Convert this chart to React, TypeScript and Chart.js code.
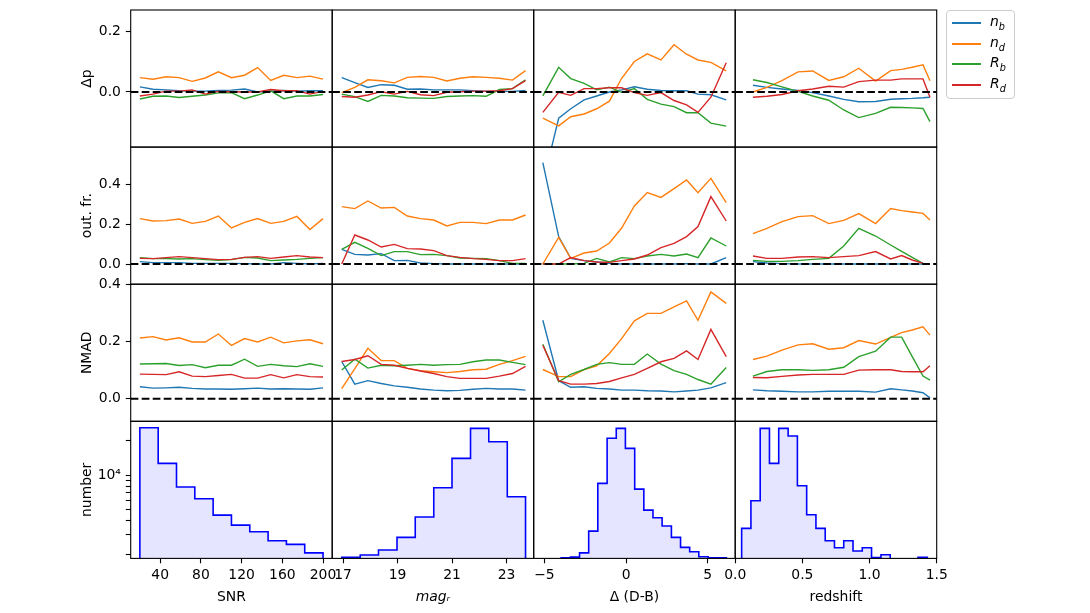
import { useEffect, useRef } from 'react';
import { Chart, registerables } from 'chart.js';

Chart.register(...registerables);
Chart.defaults.font.family = "'DejaVu Sans', sans-serif";
Chart.defaults.font.size = 13.9;
Chart.defaults.color = '#000';

// x positions of the binned points, one list per column
const SNR_X = [20, 32.9, 45.7, 58.6, 71.4, 84.3, 97.1, 110, 122.9, 135.7, 148.6, 161.4, 174.3, 187.1, 200];
const MAG_X = [16.95, 17.43, 17.91, 18.4, 18.88, 19.36, 19.84, 20.33, 20.81, 21.29, 21.77, 22.25, 22.74, 23.22, 23.7];
const DELTA_X = [-5.1, -4.13, -3.39, -2.57, -1.8, -1.02, -0.27, 0.51, 1.3, 2.14, 2.94, 3.71, 4.41, 5.2, 6.14];
const Z_X = [0.132, 0.236, 0.348, 0.468, 0.577, 0.697, 0.808, 0.92, 1.045, 1.157, 1.239, 1.318, 1.398, 1.45];

// series order: n_b, n_d, R_b, R_d
const DP_SNR = [
  [0.017, 0.009, 0.007, 0.004, 0.003, 0.003, 0.005, 0.006, 0.01, 0.0, 0.003, 0.005, 0.003, 0.004, 0.004],
  [0.047, 0.042, 0.05, 0.047, 0.035, 0.046, 0.066, 0.047, 0.055, 0.08, 0.038, 0.055, 0.047, 0.052, 0.042],
  [-0.023, -0.014, -0.013, -0.018, -0.014, -0.01, -0.003, -0.002, -0.022, -0.01, 0.004, -0.022, -0.013, -0.013, -0.008],
  [-0.013, -0.007, 0.003, 0.003, 0.007, -0.007, 0.002, 0.001, 0.0, 0.0, 0.008, 0.004, 0.004, -0.007, 0.002],
];
const DP_MAG = [
  [0.047, 0.031, 0.015, 0.024, 0.022, 0.009, 0.01, 0.007, 0.007, 0.007, 0.004, 0.002, 0.002, 0.002, 0.005],
  [-0.002, 0.015, 0.04, 0.037, 0.03, 0.048, 0.051, 0.048, 0.036, 0.045, 0.05, 0.048, 0.045, 0.039, 0.07],
  [-0.007, -0.015, -0.031, -0.011, -0.013, -0.019, -0.02, -0.021, -0.015, -0.013, -0.012, -0.014, 0.008, 0.011, 0.04],
  [-0.015, -0.017, -0.01, 0.001, -0.007, 0.002, -0.009, -0.012, -0.001, 0.001, 0.003, 0.003, 0.004, 0.011, 0.037],
];
const DP_DELTA = [
  [-0.3, -0.086, -0.055, -0.026, -0.013, 0.0, 0.007, 0.017, 0.009, 0.005, 0.004, 0.004, -0.007, -0.009, -0.026],
  [-0.086, -0.111, -0.081, -0.072, -0.055, -0.03, 0.045, 0.1, 0.125, 0.105, 0.155, 0.124, 0.105, 0.097, 0.069],
  [-0.013, 0.081, 0.044, 0.028, 0.007, 0.016, -0.001, 0.011, -0.024, -0.04, -0.048, -0.068, -0.068, -0.102, -0.112],
  [-0.067, -0.001, -0.011, 0.011, 0.011, 0.014, 0.014, -0.002, -0.011, -0.002, -0.028, -0.042, -0.067, -0.017, 0.096],
];
const DP_Z = [
  [0.022, 0.015, 0.01, 0.005, -0.002, -0.013, -0.024, -0.032, -0.031, -0.024, -0.022, -0.021, -0.019, -0.017],
  [0.0, 0.015, 0.037, 0.066, 0.069, 0.038, 0.05, 0.078, 0.036, 0.07, 0.074, 0.081, 0.089, 0.037],
  [0.04, 0.031, 0.017, 0.002, -0.013, -0.027, -0.059, -0.084, -0.07, -0.05, -0.051, -0.052, -0.054, -0.097],
  [-0.017, -0.014, -0.008, 0.004, 0.01, 0.019, 0.016, 0.034, 0.039, 0.039, 0.043, 0.043, 0.043, -0.017],
];

const OF_SNR = [
  [0.012, 0.007, 0.007, 0.007, 0.003, 0.003, 0.003, 0.003, 0.002, 0.0, 0.0, 0.007, 0.003, 0.0, 0.003],
  [0.227, 0.215, 0.217, 0.225, 0.203, 0.213, 0.24, 0.18, 0.208, 0.227, 0.203, 0.213, 0.238, 0.172, 0.227],
  [0.032, 0.027, 0.027, 0.025, 0.027, 0.022, 0.018, 0.022, 0.033, 0.03, 0.017, 0.02, 0.023, 0.028, 0.032],
  [0.028, 0.027, 0.032, 0.037, 0.032, 0.027, 0.022, 0.023, 0.033, 0.037, 0.028, 0.035, 0.042, 0.035, 0.032],
];
const OF_MAG = [
  [0.073, 0.048, 0.045, 0.052, 0.017, 0.018, 0.005, 0.002, 0.0, 0.0, 0.0, 0.0, 0.0, 0.0, 0.0],
  [0.287, 0.277, 0.315, 0.28, 0.283, 0.24, 0.227, 0.22, 0.19, 0.208, 0.208, 0.202, 0.22, 0.22, 0.245],
  [0.073, 0.108, 0.078, 0.042, 0.062, 0.062, 0.047, 0.048, 0.042, 0.03, 0.028, 0.027, 0.017, 0.003, 0.003],
  [0.0, 0.145, 0.12, 0.085, 0.098, 0.077, 0.075, 0.067, 0.042, 0.033, 0.027, 0.023, 0.017, 0.017, 0.027],
];
const OF_DELTA = [
  [0.507, 0.137, 0.028, 0.017, 0.01, 0.003, 0.0, 0.0, 0.0, 0.0, 0.0, 0.002, 0.0, 0.0, 0.032],
  [0.0, 0.133, 0.028, 0.055, 0.065, 0.105, 0.18, 0.29, 0.357, 0.333, 0.377, 0.42, 0.357, 0.428, 0.307],
  [0.0, 0.0, 0.0, 0.003, 0.028, 0.01, 0.032, 0.027, 0.04, 0.048, 0.04, 0.05, 0.032, 0.13, 0.09],
  [0.0, 0.0, 0.032, 0.017, 0.01, 0.008, 0.017, 0.025, 0.045, 0.082, 0.103, 0.137, 0.187, 0.337, 0.215],
];
const OF_Z = [
  [0.012, 0.005, 0.002, 0.0, 0.0, 0.0, 0.0, 0.0, 0.0, 0.0, 0.0, 0.0, 0.0, 0.0],
  [0.152, 0.178, 0.212, 0.237, 0.242, 0.202, 0.218, 0.252, 0.202, 0.277, 0.267, 0.26, 0.253, 0.22],
  [0.018, 0.013, 0.013, 0.017, 0.023, 0.028, 0.09, 0.178, 0.14, 0.095, 0.063, 0.033, 0.003, 0.0],
  [0.04, 0.028, 0.028, 0.035, 0.037, 0.032, 0.037, 0.042, 0.062, 0.025, 0.042, 0.02, 0.003, 0.0],
];

const NMAD_SNR = [
  [0.042, 0.037, 0.038, 0.04, 0.036, 0.034, 0.034, 0.033, 0.035, 0.037, 0.034, 0.035, 0.034, 0.033, 0.038],
  [0.212, 0.217, 0.205, 0.213, 0.198, 0.198, 0.226, 0.186, 0.21, 0.198, 0.215, 0.195, 0.202, 0.206, 0.192],
  [0.121, 0.122, 0.123, 0.116, 0.119, 0.108, 0.117, 0.117, 0.138, 0.113, 0.12, 0.115, 0.112, 0.122, 0.113],
  [0.086, 0.085, 0.084, 0.094, 0.079, 0.077, 0.081, 0.085, 0.072, 0.072, 0.084, 0.073, 0.084, 0.077, 0.076],
];
const NMAD_MAG = [
  [0.13, 0.051, 0.063, 0.053, 0.045, 0.04, 0.034, 0.03, 0.028, 0.029, 0.033, 0.036, 0.034, 0.034, 0.03],
  [0.035, 0.105, 0.176, 0.133, 0.133, 0.106, 0.098, 0.094, 0.091, 0.095, 0.101, 0.103, 0.12, 0.133, 0.148],
  [0.1, 0.138, 0.107, 0.117, 0.115, 0.117, 0.12, 0.117, 0.119, 0.12, 0.129, 0.135, 0.135, 0.127, 0.119],
  [0.13, 0.137, 0.15, 0.12, 0.117, 0.106, 0.097, 0.088, 0.077, 0.071, 0.071, 0.071, 0.079, 0.088, 0.113],
];
const NMAD_DELTA = [
  [0.274, 0.063, 0.04, 0.042, 0.036, 0.034, 0.03, 0.03, 0.028, 0.027, 0.024, 0.027, 0.03, 0.038, 0.056],
  [0.102, 0.077, 0.077, 0.102, 0.115, 0.158, 0.21, 0.272, 0.298, 0.298, 0.321, 0.342, 0.274, 0.373, 0.333],
  [0.19, 0.059, 0.085, 0.102, 0.12, 0.126, 0.12, 0.12, 0.156, 0.121, 0.098, 0.085, 0.067, 0.051, 0.109],
  [0.187, 0.063, 0.051, 0.051, 0.053, 0.06, 0.073, 0.085, 0.106, 0.129, 0.141, 0.167, 0.137, 0.242, 0.147],
];
const NMAD_Z = [
  [0.031, 0.028, 0.026, 0.024, 0.024, 0.026, 0.026, 0.026, 0.023, 0.035, 0.031, 0.027, 0.021, 0.003],
  [0.137, 0.149, 0.17, 0.188, 0.192, 0.173, 0.178, 0.203, 0.191, 0.214, 0.231, 0.24, 0.251, 0.222],
  [0.079, 0.095, 0.101, 0.101, 0.099, 0.101, 0.11, 0.147, 0.166, 0.215, 0.215, 0.147, 0.079, 0.065],
  [0.074, 0.073, 0.078, 0.083, 0.085, 0.085, 0.085, 0.1, 0.101, 0.101, 0.095, 0.094, 0.094, 0.115],
];

// histograms (bin edges + counts)
const SNR_EDGES = [20, 38, 56, 74, 92, 110, 128, 146, 164, 182, 200];
const SNR_COUNTS = [26150, 12680, 7840, 6180, 4435, 3620, 3160, 2630, 2445, 2060];
const MAG_EDGES = [16.95, 17.63, 18.3, 18.98, 19.65, 20.33, 21.0, 21.68, 22.35, 23.03, 23.7];
const MAG_COUNTS = [1880, 1970, 2180, 2820, 4260, 7730, 14030, 25830, 19680, 6440];
const DELTA_EDGES = [-5.1, -4.54, -3.98, -3.41, -2.85, -2.29, -1.73, -1.16, -0.6, -0.04, 0.53, 1.09, 1.65, 2.21, 2.78, 3.34, 3.9, 4.46, 5.03, 5.59, 6.15];
const DELTA_COUNTS = [1000, 1400, 1860, 1890, 2060, 3205, 8450, 21090, 25830, 17200, 7520, 4910, 4200, 3548, 2818, 2300, 2104, 1900, 1860, 1860];
const Z_EDGES = [0.048, 0.117, 0.186, 0.255, 0.324, 0.394, 0.463, 0.532, 0.601, 0.67, 0.739, 0.808, 0.877, 0.946, 1.015, 1.085, 1.154, 1.223, 1.292, 1.361, 1.43];
const Z_COUNTS = [3385, 5930, 25830, 12680, 25830, 22080, 8050, 4465, 3385, 2630, 2282, 2630, 2136, 2282, 1870, 1980, 1500, 1500, 1500, 1878];

const HIST_MIN = 1840;
const HIST_MAX = 29800;
const HIST_TICKS = [2000, 3000, 4000, 5000, 6000, 7000, 8000, 9000, 10000, 20000];

const SERIES_COLORS = ['#1f77b4', '#ff7f0e', '#2ca02c', '#d62728'];
const SERIES_NAMES = [['n', 'b'], ['n', 'd'], ['R', 'b'], ['R', 'd']];

const FIG_W = 1090;
const FIG_H = 613;
const COL_LEFT = [130.7, 332.2, 533.7, 735.2];
const ROW_TOP = [10, 147.1, 284.2, 421.3];
const CELL_W = 201.5;
const CELL_H = 137.1;
const LEFT_EDGE = 60;

const minus = (v: number) => (v < 0 ? '\u2212' + Math.abs(v) : String(v));

const COLS = [
  { x: SNR_X, min: 11, max: 209, ticks: [40, 80, 120, 160, 200], fmt: (v: number) => String(v), title: 'SNR', italic: false, edges: SNR_EDGES, counts: SNR_COUNTS },
  { x: MAG_X, min: 16.6, max: 24.0, ticks: [17, 19, 21, 23], fmt: (v: number) => String(v), title: 'mag\u1d63', italic: true, edges: MAG_EDGES, counts: MAG_COUNTS },
  { x: DELTA_X, min: -5.66, max: 6.69, ticks: [-5, 0, 5], fmt: minus, title: '\u0394 (D-B)', italic: false, edges: DELTA_EDGES, counts: DELTA_COUNTS },
  { x: Z_X, min: 0, max: 1.5, ticks: [0, 0.5, 1.0, 1.5], fmt: (v: number) => v.toFixed(1), title: 'redshift', italic: false, edges: Z_EDGES, counts: Z_COUNTS },
];

const ROWS = [
  { title: '\u0394p', min: -0.1807, max: 0.2689, ticks: [0, 0.2], data: [DP_SNR, DP_MAG, DP_DELTA, DP_Z] },
  { title: 'out. fr.', min: -0.101, max: 0.5845, ticks: [0, 0.2, 0.4], data: [OF_SNR, OF_MAG, OF_DELTA, OF_Z] },
  { title: 'NMAD', min: -0.0789, max: 0.4, ticks: [0, 0.2, 0.4], data: [NMAD_SNR, NMAD_MAG, NMAD_DELTA, NMAD_Z] },
];

const framePlugin = {
  id: 'frame',
  afterDatasetsDraw(chart: any) {
    const { ctx, chartArea: a } = chart;
    ctx.save();
    ctx.strokeStyle = '#000';
    ctx.lineWidth = 1.1;
    ctx.strokeRect(a.left, a.top, a.right - a.left, a.bottom - a.top);
    ctx.restore();
  },
};

const tickGrid = { display: true, drawOnChartArea: false, drawTicks: true, tickLength: 4.9, tickColor: '#000', tickWidth: 1.1 };

// axis sizes are fixed so every plot area sits exactly on its grid cell
const noOverflow = (s: any) => {
  s.paddingTop = 0;
  s.paddingBottom = 0;
  s.paddingLeft = 0;
  s.paddingRight = 0;
};

function Panel({ row, col }: { row: number; col: number }) {
  const canvasRef = useRef<HTMLCanvasElement>(null);

  useEffect(() => {
    const c = COLS[col];
    const isHist = row === 3;
    const showY = col === 0;
    const showX = row === 3;

    let datasets: any[];
    let yScale: any;
    if (isHist) {
      const pts = [{ x: c.edges[0], y: HIST_MIN }];
      c.counts.forEach((v, i) => pts.push({ x: c.edges[i], y: v }));
      pts.push({ x: c.edges[c.edges.length - 1], y: HIST_MIN });
      datasets = [{
        data: pts,
        borderColor: '#0000ff',
        borderWidth: 1.6,
        backgroundColor: 'rgba(0,0,255,0.1)',
        fill: 'start',
        stepped: 'before',
        pointRadius: 0,
      }];
      yScale = {
        type: 'logarithmic',
        min: HIST_MIN,
        max: HIST_MAX,
        bounds: 'data',
        display: showY,
        afterBuildTicks: (s: any) => { s.ticks = HIST_TICKS.map((v) => ({ value: v })); },
        ticks: { padding: 4.9, autoSkip: false, callback: (v: any) => (v === 10000 ? '10\u2074' : '') },
        title: { display: true, text: 'number', padding: { top: 19, bottom: 0 } },
      };
    } else {
      const r = ROWS[row];
      datasets = r.data[col].map((ys, i) => ({
        data: ys.map((y, j) => ({ x: c.x[j], y })),
        borderColor: SERIES_COLORS[i],
        borderWidth: 1.4,
        pointRadius: 0,
        tension: 0,
        fill: false,
        order: 4 - i,
      }));
      datasets.push({
        data: [{ x: c.min, y: 0 }, { x: c.max, y: 0 }],
        borderColor: '#000',
        borderWidth: 2,
        borderDash: [7.7, 3.3],
        pointRadius: 0,
        fill: false,
        order: 0,
      });
      yScale = {
        type: 'linear',
        min: r.min,
        max: r.max,
        bounds: 'data',
        display: showY,
        afterBuildTicks: (s: any) => { s.ticks = r.ticks.map((v) => ({ value: v })); },
        ticks: { padding: 4.9, autoSkip: false, callback: (v: any) => Number(v).toFixed(1) },
        title: { display: true, text: r.title, padding: { top: 19, bottom: 0 } },
      };
    }
    yScale.grid = tickGrid;
    yScale.border = { display: false };
    yScale.afterFit = showY
      ? (s: any) => { s.width = COL_LEFT[0] - LEFT_EDGE; noOverflow(s); }
      : undefined;

    const chart = new Chart(canvasRef.current!, {
      type: 'line',
      data: { datasets },
      plugins: [framePlugin],
      options: {
        animation: false,
        responsive: false,
        events: [],
        layout: {
          padding: {
            left: showY ? LEFT_EDGE : COL_LEFT[col],
            right: FIG_W - (COL_LEFT[col] + CELL_W),
            top: ROW_TOP[row],
            bottom: showX ? 0 : FIG_H - (ROW_TOP[row] + CELL_H),
          },
        },
        plugins: { legend: { display: false }, tooltip: { enabled: false } },
        scales: {
          x: {
            type: 'linear',
            min: c.min,
            max: c.max,
            bounds: 'data',
            display: showX,
            afterBuildTicks: (s: any) => { s.ticks = c.ticks.map((v) => ({ value: v })); },
            afterFit: showX
              ? (s: any) => { s.height = FIG_H - (ROW_TOP[3] + CELL_H); noOverflow(s); }
              : undefined,
            grid: tickGrid,
            border: { display: false },
            ticks: { padding: 4, autoSkip: false, maxRotation: 0, callback: (v: any) => c.fmt(Number(v)) },
            title: {
              display: true,
              text: c.title,
              padding: { top: 0, bottom: 7.7 },
              font: { style: c.italic ? 'italic' : 'normal' },
            },
          },
          y: yScale,
        },
      } as any,
    });

    return () => chart.destroy();
  }, [row, col]);

  return (
    <canvas
      ref={canvasRef}
      width={FIG_W}
      height={FIG_H}
      style={{ position: 'absolute', left: 0, top: 0, width: FIG_W, height: FIG_H }}
    />
  );
}

function Legend() {
  return (
    <div
      style={{
        position: 'absolute', left: 946, top: 10, width: 69, height: 89,
        border: '1px solid #cccccc', borderRadius: 4, background: 'rgba(255,255,255,0.8)',
        boxSizing: 'border-box', fontFamily: "'DejaVu Sans', sans-serif", fontSize: 13.9, fontStyle: 'italic',
      }}
    >
      {SERIES_NAMES.map(([base, sub], i) => {
        const top = 1 + Math.round(20.6 * i);
        return (
          <div key={base + sub} style={{ position: 'absolute', left: 0, top, width: 67, height: 18, lineHeight: '18px' }}>
            <div style={{ position: 'absolute', left: 5, top: 10, width: 29, height: 1.5, background: SERIES_COLORS[i] }} />
            <span style={{ position: 'absolute', left: 43, top: 0, whiteSpace: 'nowrap' }}>
              {base}
              <span style={{ fontSize: '70%', position: 'relative', top: 3.5 }}>{sub}</span>
            </span>
          </div>
        );
      })}
    </div>
  );
}

export default function App() {
  const cells = [];
  for (let r = 0; r < 4; r++) {
    for (let c = 0; c < 4; c++) cells.push(<Panel key={`${r}-${c}`} row={r} col={c} />);
  }
  return (
    <div style={{ position: 'absolute', left: 0, top: 0, width: FIG_W, height: FIG_H, background: '#fff', overflow: 'hidden' }}>
      {cells}
      <Legend />
    </div>
  );
}
